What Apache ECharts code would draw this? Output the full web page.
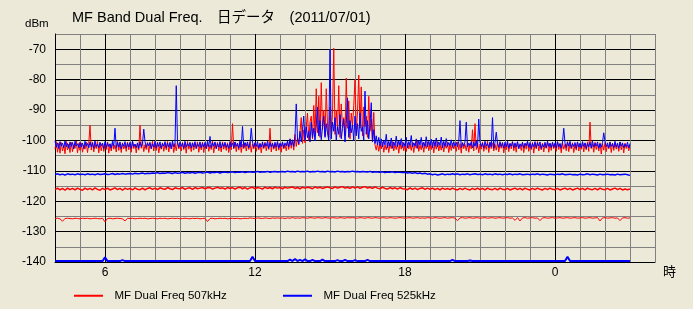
<!DOCTYPE html>
<html>
<head>
<meta charset="utf-8">
<script src="https://cdn.jsdelivr.net/npm/echarts@6/dist/echarts.min.js"></script>
<style>
html,body{margin:0;padding:0;background:#ECE9D8;}
#chart{width:693px;height:309px;}
</style>
</head>
<body>
<div id="chart"></div>
<script>
// ---- data ----
const titleText = 'MF Band Dual Freq.\u3000日データ\u3000(2011/07/01)';
const seriesNames = ['MF Dual Freq 507kHz', 'MF Dual Freq 525kHz'];
const startHour = 4;        // first sample 04:00
const stepMain = 0.05;      // main traces: one sample every 3 minutes
const stepFlat = 0.1;       // lower traces: one sample every 6 minutes
const xTickHours = [6, 12, 18, 24];
const xTickLabels = ['6', '12', '18', '0'];
const yTickValues = [-140, -130, -120, -110, -100, -90, -80, -70];

// 507kHz main trace (3-minute samples, 04:00 .. 03:00)
const red507Main = [
-102.8,-100.4,-103.9,-101.0,-104.2,-100.7,-103.5,-101.6,-104.4,-100.3,-103.1,-101.2,-104.0,-100.6,-103.7,-101.4,-102.6,-100.2,-104.1,-101.0,
-103.3,-100.8,-103.9,-101.5,-102.9,-100.5,-104.0,-101.1,-95.0,-103.2,-100.6,-103.8,-101.3,-102.7,-100.4,-104.1,-101.0,-103.4,-100.9,-103.6,
-101.4,-103.0,-100.5,-104.2,-101.2,-103.5,-100.7,-102.9,-101.6,-103.8,-100.3,-103.3,-101.0,-104.0,-100.8,-102.8,-101.5,-103.6,-100.6,-103.1,
-101.2,-103.9,-100.4,-102.7,-101.3,-104.1,-100.9,-103.2,-95.0,-102.6,-100.5,-103.7,-101.4,-103.0,-100.7,-104.0,-101.1,-102.8,-100.3,-103.5,
-101.0,-103.3,-100.6,-104.1,-101.5,-102.9,-100.8,-103.6,-101.2,-103.1,-100.4,-103.8,-101.3,-102.7,-100.9,-104.0,-101.0,-103.4,-100.5,-102.8,
-101.6,-103.5,-100.7,-103.0,-101.1,-104.2,-100.4,-102.9,-101.4,-103.7,-100.8,-103.2,-101.0,-102.6,-100.5,-103.9,-101.3,-103.1,-100.6,-104.0,
-101.2,-102.8,-100.9,-103.6,-101.5,-103.0,-100.3,-104.1,-101.0,-102.7,-100.7,-103.4,-101.3,-103.8,-100.5,-102.9,-101.1,-103.3,-100.8,-104.0,
-101.4,-103.1,-94.5,-102.8,-100.6,-103.7,-101.0,-103.2,-100.4,-104.0,-101.3,-102.7,-100.8,-103.5,-101.1,-103.0,-100.5,-103.9,-101.2,-102.8,
-100.7,-103.6,-101.4,-103.1,-100.9,-104.1,-101.0,-102.7,-100.6,-103.4,-101.3,-103.0,-96.0,-103.8,-100.8,-102.9,-101.2,-103.5,-100.5,-103.2,
-101.1,-103.9,-100.7,-102.8,-101.4,-103.4,-100.3,-103.0,-99.5,-102.6,-100.1,-103.2,-98.0,-102.0,-99.2,-101.5,-97.0,-92.5,-101.0,-96.5,
-100.8,-95.5,-91.0,-100.0,-94.0,-92.0,-99.5,-88.5,-98.0,-83.0,-97.5,-85.5,-99.0,-81.0,-96.5,-90.0,-98.5,-83.0,-95.0,-99.0,
-89.0,-97.0,-91.5,-69.7,-98.0,-90.0,-96.5,-82.0,-99.0,-88.0,-95.5,-92.5,-98.5,-79.5,-96.0,-87.0,-99.5,-91.0,-95.0,-88.5,
-80.0,-97.5,-90.5,-78.5,-96.0,-82.4,-98.5,-89.0,-95.5,-92.0,-99.0,-85.5,-97.0,-93.0,-100.5,-90.8,-101.5,-103.2,-100.9,-103.6,
-101.2,-102.8,-100.6,-103.9,-101.5,-103.1,-100.8,-104.0,-101.1,-102.7,-100.4,-103.5,-101.3,-103.0,-100.7,-104.2,-101.0,-102.9,-100.5,-103.4,
-101.4,-103.7,-100.9,-102.8,-101.2,-103.3,-100.6,-104.0,-101.0,-102.6,-100.3,-103.6,-101.5,-103.1,-100.8,-103.9,-101.1,-102.7,-100.5,-103.4,
-101.3,-103.0,-100.7,-104.1,-101.0,-102.9,-100.4,-103.5,-101.4,-103.2,-100.8,-103.8,-101.1,-102.6,-100.6,-104.0,-101.2,-103.3,-100.9,-102.8,
-101.5,-103.6,-100.5,-103.1,-101.0,-104.2,-100.7,-102.7,-101.3,-103.4,-100.4,-103.9,-101.1,-102.8,-96.5,-103.5,-94.5,-103.0,-100.8,-104.1,
-101.2,-102.9,-100.6,-103.6,-101.4,-103.0,-100.3,-104.0,-101.0,-102.7,-100.8,-103.5,-101.3,-103.2,-100.5,-103.8,-101.1,-102.6,-100.7,-104.1,
-101.4,-103.1,-100.9,-103.7,-101.0,-102.8,-100.4,-103.4,-101.2,-103.9,-100.6,-102.7,-101.5,-103.3,-100.8,-104.0,-101.1,-102.9,-100.5,-103.6,
-101.3,-103.0,-100.7,-104.2,-101.0,-102.8,-100.4,-103.5,-101.4,-103.1,-100.9,-103.8,-101.2,-102.6,-100.6,-103.9,-101.0,-103.3,-100.8,-102.7,
-101.5,-103.6,-100.5,-103.0,-101.1,-104.1,-100.7,-102.9,-101.3,-103.4,-100.4,-103.7,-101.0,-102.8,-100.8,-104.0,-101.2,-103.2,-100.6,-103.5,
-101.4,-102.9,-100.9,-103.8,-101.0,-103.1,-100.5,-103.6,-94.0,-102.7,-101.2,-103.9,-100.6,-103.0,-101.3,-103.5,-100.8,-104.5,-101.1,-103.2,
-100.7,-103.7,-101.4,-102.8,-100.5,-104.0,-101.0,-103.3,-100.8,-102.9,-101.3,-103.6,-100.6,-103.1,-101.2,-104.1,-100.9,-102.7,-101.5,-103.4,
-101.6];

// 525kHz main trace (3-minute samples, 04:00 .. 03:00)
const blue525Main = [
-100.1,-102.3,-100.8,-102.7,-100.4,-101.9,-100.9,-102.5,-100.2,-102.1,-101.0,-102.6,-100.5,-102.0,-100.7,-102.8,-100.3,-101.8,-101.1,-102.4,
-100.6,-102.2,-100.9,-102.7,-100.3,-101.9,-101.0,-102.5,-100.5,-102.1,-100.8,-102.6,-100.2,-102.0,-101.2,-102.4,-100.6,-101.8,-100.9,-102.7,
-100.4,-102.3,-100.8,-102.0,-101.1,-102.6,-100.3,-101.9,-96.0,-102.4,-100.7,-102.2,-100.5,-102.8,-101.0,-101.9,-100.4,-102.5,-100.9,-102.1,
-100.6,-102.7,-100.3,-102.0,-101.2,-102.4,-100.8,-102.6,-100.5,-102.1,-101.0,-96.3,-100.4,-102.3,-100.9,-101.8,-100.6,-102.7,-101.1,-102.2,
-100.3,-102.5,-100.8,-102.0,-100.5,-102.6,-101.0,-101.9,-100.4,-102.4,-100.9,-102.2,-100.6,-102.8,-100.2,-102.1,-101.1,-82.0,-100.7,-102.3,
-100.5,-102.0,-100.9,-102.6,-100.3,-102.2,-101.0,-101.9,-100.6,-102.5,-100.8,-102.1,-100.4,-102.7,-101.1,-102.0,-100.5,-102.4,-100.9,-102.2,
-100.6,-102.6,-100.3,-102.1,-98.7,-102.4,-100.8,-101.9,-100.5,-102.7,-101.0,-102.2,-100.4,-102.5,-100.9,-102.0,-100.6,-102.3,-101.2,-102.6,
-100.4,-102.1,-100.8,-102.5,-100.5,-102.0,-100.9,-102.6,-100.3,-102.2,-95.4,-102.4,-100.7,-101.9,-100.5,-102.5,-101.0,-96.0,-100.6,-102.3,
-100.8,-102.0,-100.4,-102.6,-101.1,-102.2,-100.5,-102.4,-100.9,-101.9,-100.3,-102.7,-100.7,-102.1,-101.0,-102.5,-100.6,-102.2,-100.4,-102.6,
-100.9,-102.0,-100.5,-102.4,-100.8,-101.8,-100.2,-102.2,-99.5,-101.6,-99.8,-102.0,-98.5,-88.0,-99.5,-101.2,-97.0,-100.5,-96.5,-92.0,
-100.0,-95.5,-99.2,-97.0,-100.5,-94.0,-99.0,-96.0,-100.2,-95.0,-89.0,-98.5,-93.5,-99.8,-95.5,-92.0,-99.0,-94.5,-97.5,-100.0,
-70.0,-99.5,-94.0,-97.0,-92.5,-100.0,-95.5,-98.0,-91.5,-99.5,-96.0,-93.0,-100.5,-94.5,-86.0,-99.0,-93.5,-97.5,-95.0,-100.0,
-92.0,-98.5,-94.5,-99.5,-91.0,-97.0,-95.5,-100.0,-83.8,-98.0,-93.5,-99.5,-95.0,-87.6,-100.5,-96.5,-101.0,-98.5,-101.5,-99.0,
-101.8,-99.5,-102.2,-100.0,-101.5,-98.0,-102.4,-100.3,-101.9,-99.2,-102.6,-100.5,-101.7,-98.6,-102.1,-100.2,-101.6,-99.4,-102.3,-100.7,
-101.9,-99.0,-102.5,-100.4,-101.6,-98.4,-102.2,-100.8,-101.8,-99.5,-102.6,-100.1,-101.5,-99.0,-102.3,-100.6,-101.9,-98.8,-102.1,-100.3,
-101.7,-99.6,-102.4,-100.0,-101.8,-99.2,-102.2,-100.5,-101.6,-98.9,-102.5,-100.3,-101.9,-99.4,-102.0,-100.7,-101.7,-99.8,-102.3,-100.4,
-101.8,-100.6,-102.1,-100.3,-93.5,-102.4,-100.8,-101.9,-100.5,-94.0,-102.2,-100.9,-101.7,-100.4,-102.5,-100.7,-101.9,-100.2,-102.3,-93.0,
-100.6,-102.0,-100.9,-102.5,-100.3,-101.8,-101.0,-102.4,-100.5,-102.1,-92.5,-102.6,-100.7,-97.3,-101.0,-102.3,-100.4,-102.0,-100.8,-102.5,
-100.6,-102.1,-100.3,-102.6,-101.0,-101.9,-100.5,-102.4,-100.8,-102.2,-100.4,-102.7,-101.1,-102.0,-100.6,-102.5,-100.9,-101.8,-100.3,-102.3,
-100.7,-102.6,-101.0,-102.1,-100.4,-102.4,-100.8,-101.9,-100.5,-102.7,-101.2,-102.2,-100.6,-102.5,-100.3,-102.0,-100.9,-102.4,-100.6,-102.2,
-100.8,-102.5,-100.4,-102.1,-101.0,-102.6,-100.5,-96.0,-100.9,-102.3,-100.6,-101.9,-100.3,-102.4,-101.1,-102.0,-100.7,-102.6,-100.5,-102.2,
-100.9,-102.4,-100.4,-102.0,-100.8,-102.7,-101.0,-102.1,-100.6,-102.5,-100.3,-102.2,-100.9,-101.9,-100.5,-102.6,-101.1,-102.3,-100.7,-97.5,
-100.4,-102.1,-100.8,-102.5,-100.6,-102.0,-101.0,-102.4,-100.3,-102.2,-100.9,-102.6,-100.5,-101.9,-100.8,-102.4,-101.2,-102.1,-100.6,-102.5,
-101.0];

// 507kHz lower trace (~-116), 6-minute samples
const red507Mid = [
-116.2,-115.7,-116.3,-115.8,-116.4,-115.7,-116.2,-115.8,-116.3,-115.7,
-116.1,-116.4,-115.7,-116.2,-115.8,-116.3,-115.6,-116.1,-116.4,-115.8,
-116.2,-115.7,-116.3,-116.0,-115.6,-116.2,-115.8,-116.4,-115.7,-116.1,
-115.8,-116.3,-115.6,-116.1,-116.2,-115.7,-116.3,-115.8,-115.6,-116.1,
-115.7,-116.2,-115.6,-115.9,-116.1,-115.5,-115.9,-116.2,-115.6,-115.8,
-115.9,-115.5,-116.1,-115.7,-115.6,-116.1,-115.5,-115.9,-115.7,-115.5,
-115.9,-115.6,-115.5,-116.0,-115.7,-115.4,-115.8,-115.6,-116.0,-115.5,
-115.8,-115.5,-116.0,-115.6,-115.4,-115.9,-115.5,-116.0,-115.6,-115.4,
-115.9,-115.5,-115.7,-116.0,-115.4,-115.8,-115.5,-115.9,-115.4,-115.7,
-115.5,-115.9,-115.4,-115.7,-115.5,-115.3,-115.8,-115.5,-115.9,-115.4,
-115.7,-115.4,-115.6,-115.9,-115.3,-115.7,-115.4,-115.8,-115.5,-115.3,
-115.6,-115.8,-115.3,-115.7,-115.4,-115.2,-115.7,-115.4,-115.8,-115.3,
-115.7,-115.3,-115.8,-115.4,-115.2,-115.7,-115.4,-115.8,-115.3,-115.7,
-115.9,-115.4,-115.8,-116.0,-115.5,-115.9,-115.6,-116.0,-115.5,-115.9,
-116.0,-116.2,-115.6,-116.1,-115.7,-116.2,-115.8,-115.6,-116.1,-115.7,
-116.1,-115.7,-116.2,-115.8,-116.3,-115.7,-116.1,-115.8,-116.2,-115.7,
-116.1,-116.3,-115.8,-116.2,-115.7,-116.1,-116.3,-115.8,-116.2,-115.7,
-116.2,-115.8,-116.3,-115.7,-116.1,-116.2,-115.8,-116.3,-115.7,-116.1,
-116.2,-115.8,-116.3,-116.0,-115.7,-116.2,-115.8,-116.3,-115.7,-116.1,
-116.3,-115.8,-116.2,-115.7,-116.1,-116.3,-115.8,-116.2,-115.7,-116.1,
-116.2,-115.8,-116.3,-116.0,-115.7,-116.2,-115.8,-116.3,-116.0,-115.7,
-116.2,-115.8,-116.3,-115.7,-116.1,-116.2,-115.8,-116.3,-115.7,-116.1,
-116.2,-115.8,-116.3,-116.0,-115.7,-116.2,-115.8,-116.3,-116.0,-116.2,
-116.0];

// 507kHz lowest trace (~-126), 6-minute samples
const red507Low = [
-125.7,-125.6,-125.8,-126.6,-125.7,-125.6,-125.7,-125.8,-125.6,-125.7,
-125.8,-125.6,-125.7,-125.6,-125.8,-125.7,-125.6,-125.7,-125.8,-125.6,
-126.8,-125.7,-125.6,-125.8,-125.7,-125.6,-125.7,-125.8,-126.5,-125.6,
-125.7,-125.6,-125.8,-125.7,-125.6,-125.7,-125.6,-125.8,-125.7,-125.6,
-125.7,-125.8,-125.6,-125.7,-125.6,-125.8,-125.7,-125.6,-125.7,-125.6,
-125.8,-125.7,-125.6,-125.7,-125.8,-125.6,-125.7,-125.6,-125.8,-125.7,
-125.6,-126.7,-125.7,-125.6,-125.8,-125.7,-125.6,-125.7,-125.6,-125.8,
-125.7,-125.6,-125.7,-125.6,-125.8,-125.7,-125.6,-125.7,-125.5,-125.6,
-125.7,-125.5,-125.6,-125.7,-125.5,-125.6,-125.7,-125.5,-125.6,-125.5,
-125.6,-125.5,-125.7,-125.5,-125.6,-125.4,-125.6,-125.5,-125.6,-125.4,
-125.5,-125.6,-125.4,-125.5,-125.6,-125.4,-125.5,-125.6,-125.4,-125.5,
-125.6,-125.4,-125.5,-125.6,-125.4,-125.5,-125.6,-125.4,-125.5,-125.4,
-125.5,-125.6,-125.4,-125.5,-125.6,-125.4,-125.5,-125.6,-125.4,-125.5,
-125.6,-125.4,-125.5,-125.6,-125.4,-125.5,-125.6,-125.5,-125.4,-125.5,
-125.6,-125.5,-125.4,-125.6,-125.5,-125.4,-125.6,-125.5,-125.6,-125.4,
-125.5,-125.6,-125.4,-125.5,-125.6,-125.5,-125.4,-125.6,-125.5,-125.4,
-125.6,-126.4,-125.5,-125.4,-125.6,-125.5,-125.4,-125.6,-125.5,-125.4,
-125.6,-125.5,-125.4,-125.6,-125.5,-125.4,-125.6,-125.5,-125.4,-125.6,
-125.5,-125.4,-125.6,-125.5,-126.3,-125.4,-126.5,-125.5,-125.4,-125.6,
-125.5,-125.4,-125.6,-125.5,-126.4,-125.5,-125.4,-125.6,-125.5,-125.4,
-125.6,-125.5,-125.4,-125.6,-125.5,-125.4,-125.6,-125.5,-125.4,-125.6,
-125.5,-125.4,-125.6,-125.5,-125.4,-125.6,-125.5,-125.4,-126.5,-125.5,
-125.4,-125.6,-125.5,-125.4,-125.6,-125.5,-126.4,-125.5,-125.4,-125.6,
-125.5];

// 525kHz lower trace (~-111), 6-minute samples
const blue525Mid = [
-111.2,-111.0,-111.3,-111.1,-111.4,-111.0,-111.2,-111.1,-111.3,-111.0,
-111.2,-111.1,-111.3,-111.0,-111.2,-111.1,-111.3,-111.0,-111.2,-111.1,
-111.0,-111.2,-111.1,-110.9,-111.2,-111.0,-111.1,-110.9,-111.1,-111.0,
-110.9,-111.1,-110.8,-111.0,-110.9,-110.7,-111.0,-110.8,-110.9,-110.7,
-110.8,-110.6,-110.9,-110.7,-110.8,-110.6,-110.7,-110.9,-110.6,-110.8,
-110.7,-110.5,-110.8,-110.6,-110.7,-110.5,-110.8,-110.6,-110.5,-110.7,
-110.6,-110.4,-110.7,-110.5,-110.6,-110.4,-110.7,-110.5,-110.4,-110.6,
-110.5,-110.3,-110.6,-110.4,-110.5,-110.3,-110.6,-110.4,-110.3,-110.5,
-110.4,-110.2,-110.5,-110.3,-110.4,-110.2,-110.5,-110.3,-110.2,-110.4,
-110.3,-110.2,-110.4,-110.1,-110.3,-110.2,-110.4,-110.1,-110.3,-110.2,
-110.3,-110.1,-110.4,-110.2,-110.3,-110.1,-110.3,-110.2,-110.4,-110.1,
-110.3,-110.2,-110.4,-110.1,-110.3,-110.2,-110.4,-110.2,-110.3,-110.1,
-110.3,-110.2,-110.4,-110.2,-110.3,-110.4,-110.2,-110.5,-110.3,-110.4,
-110.5,-110.3,-110.6,-110.4,-110.5,-110.3,-110.6,-110.4,-110.5,-110.6,
-110.5,-110.7,-110.6,-110.8,-110.6,-110.9,-110.7,-111.0,-110.8,-111.1,
-111.0,-111.3,-111.1,-111.4,-111.2,-111.0,-111.3,-111.1,-111.2,-111.0,
-111.2,-111.0,-111.3,-111.1,-111.2,-111.0,-111.3,-111.1,-111.0,-111.2,
-111.1,-111.3,-111.0,-111.2,-111.1,-111.3,-111.0,-111.2,-111.1,-111.3,
-111.1,-111.2,-111.0,-111.3,-111.1,-111.2,-111.0,-111.3,-111.2,-111.1,
-111.3,-111.1,-111.2,-111.0,-111.3,-111.1,-111.2,-111.4,-111.1,-111.2,
-111.3,-111.1,-111.2,-111.0,-111.3,-111.2,-111.1,-111.3,-111.2,-111.4,
-111.1,-111.3,-111.2,-111.0,-111.3,-111.1,-111.2,-111.4,-111.1,-111.3,
-111.2,-111.1,-111.3,-111.2,-111.4,-111.1,-111.3,-111.2,-111.1,-111.3,
-111.5];

// 525kHz lowest trace (~-140), 6-minute samples
const blue525Low = [
-139.7,-139.7,-139.7,-139.7,-139.7,-139.7,-139.7,-139.7,-139.7,-139.7,
-139.7,-139.7,-139.7,-139.7,-139.7,-139.7,-139.7,-139.7,-139.7,-139.7,
-138.5,-139.7,-139.7,-139.7,-139.7,-139.7,-139.7,-139.4,-139.7,-139.7,
-139.7,-139.7,-139.7,-139.7,-139.7,-139.7,-139.7,-139.7,-139.7,-139.7,
-139.7,-139.7,-139.7,-139.7,-139.7,-139.7,-139.7,-139.7,-139.7,-139.7,
-139.7,-139.7,-139.7,-139.7,-139.7,-139.7,-139.7,-139.7,-139.7,-139.7,
-139.7,-139.7,-139.7,-139.7,-139.7,-139.7,-139.7,-139.7,-139.7,-139.7,
-139.7,-139.7,-139.7,-139.7,-139.7,-139.7,-139.7,-139.7,-139.7,-138.3,
-139.7,-139.7,-139.7,-139.7,-139.7,-139.7,-139.7,-139.7,-139.7,-139.7,
-139.7,-139.7,-139.7,-139.7,-139.2,-139.7,-139.0,-139.7,-139.3,-139.7,
-139.1,-139.7,-139.7,-139.3,-139.7,-139.7,-139.7,-139.2,-139.7,-139.7,
-139.7,-139.7,-139.7,-139.4,-139.7,-139.7,-139.3,-139.7,-139.7,-139.7,
-139.4,-139.7,-139.7,-139.7,-139.7,-139.3,-139.7,-139.7,-139.7,-139.7,
-139.7,-139.7,-139.7,-139.7,-139.7,-139.7,-139.7,-139.7,-139.7,-139.7,
-139.7,-139.7,-139.7,-139.7,-139.7,-139.7,-139.7,-139.7,-139.7,-139.7,
-139.7,-139.7,-139.7,-139.7,-139.7,-139.7,-139.7,-139.7,-139.7,-139.3,
-139.7,-139.7,-139.7,-139.7,-139.7,-139.7,-139.5,-139.7,-139.7,-139.7,
-139.7,-139.7,-139.7,-139.7,-139.7,-139.7,-139.7,-139.7,-139.7,-139.7,
-139.7,-139.7,-139.7,-139.7,-139.7,-139.7,-139.7,-139.7,-139.7,-139.7,
-139.7,-139.7,-139.7,-139.7,-139.7,-139.7,-139.7,-139.7,-139.7,-139.7,
-139.7,-139.7,-139.7,-139.7,-139.7,-138.3,-139.7,-139.7,-139.7,-139.7,
-139.7,-139.7,-139.7,-139.7,-139.7,-139.7,-139.7,-139.7,-139.7,-139.7,
-139.7,-139.7,-139.7,-139.7,-139.7,-139.7,-139.7,-139.7,-139.7,-139.7,
-139.7];

// ---- chart ----
const RED = '#FF0000', BLUE = '#0000FF';
const GRAY = '#808080', BLACK = '#000000';
const FONT = '"Liberation Sans", "Noto Sans CJK JP", Arial, sans-serif';

function pairs(vals, step) {
  return vals.map((v, i) => [Math.round((startHour + i * step) * 1000) / 1000, v]);
}
function lineSeries(name, color, vals, step, width) {
  return {
    name: name, type: 'line', data: pairs(vals, step),
    showSymbol: false, symbol: 'none', sampling: null,
    lineStyle: { color: color, width: width },
    itemStyle: { color: color },
    emphasis: { disabled: true }, silent: true, animation: false
  };
}

const chart = echarts.init(document.getElementById('chart'), null, { renderer: 'canvas' });
chart.setOption({
  backgroundColor: '#ECE9D8',
  animation: false,
  textStyle: { fontFamily: FONT, color: '#000' },
  title: {
    text: titleText, left: 67, top: 6,
    textStyle: { fontFamily: FONT, fontSize: 14.5, fontWeight: 'normal', color: '#000' }
  },
  legend: [
    { data: [seriesNames[0]], left: 69, top: 285, icon: 'rect', itemWidth: 29, itemHeight: 2,
      formatter: n => '  ' + n, textStyle: { fontFamily: FONT, fontSize: 11.5, color: '#000' }, selectedMode: false },
    { data: [seriesNames[1]], left: 278, top: 285, icon: 'rect', itemWidth: 29, itemHeight: 2,
      formatter: n => '  ' + n, textStyle: { fontFamily: FONT, fontSize: 11.5, color: '#000' }, selectedMode: false }
  ],
  graphic: [
    { type: 'text', left: 25, top: 18, style: { text: 'dBm', font: '11.5px ' + FONT, fill: '#000' } },
    { type: 'text', left: 663, top: 266, style: { text: '時', font: '13px ' + FONT, fill: '#000' } }
  ],
  grid: { left: 55, right: 38, top: 34, bottom: 47, containLabel: false, show: false },
  xAxis: {
    type: 'value', min: 4, max: 28, interval: 1,
    axisLine: { show: true, onZero: false, lineStyle: { color: BLACK, width: 1 } },
    axisTick: { show: false },
    axisLabel: {
      margin: 5, fontSize: 12, fontFamily: FONT, color: '#000',
      formatter: v => { const k = xTickHours.indexOf(v); return k >= 0 ? xTickLabels[k] : ''; }
    },
    splitLine: { show: true, showMinLine: false,
      lineStyle: { width: 1, color: [GRAY, BLACK, GRAY, GRAY, GRAY, GRAY] } }
  },
  yAxis: {
    type: 'value', min: -140, max: -65, interval: 5,
    axisLine: { show: true, onZero: false, lineStyle: { color: BLACK, width: 1 } },
    axisTick: { show: false },
    axisLabel: {
      margin: 9, fontSize: 12, fontFamily: FONT, color: '#000',
      formatter: v => yTickValues.indexOf(v) >= 0 ? String(v) : ''
    },
    splitLine: { show: true, showMinLine: false,
      lineStyle: { width: 1, color: [GRAY, BLACK] } }
  },
  series: [
    lineSeries(seriesNames[0], RED, red507Low, stepFlat, 1),
    lineSeries(seriesNames[0], RED, red507Mid, stepFlat, 1.5),
    lineSeries(seriesNames[1], BLUE, blue525Mid, stepFlat, 1.5),
    lineSeries(seriesNames[1], BLUE, blue525Low, stepFlat, 2),
    lineSeries(seriesNames[0], RED, red507Main, stepMain, 1),
    lineSeries(seriesNames[1], BLUE, blue525Main, stepMain, 1)
  ]
});
</script>
</body>
</html>
